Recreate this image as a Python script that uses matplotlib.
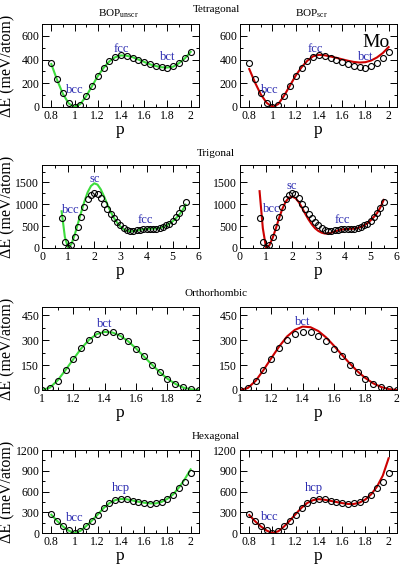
import matplotlib
matplotlib.use("Agg")
import matplotlib.pyplot as plt
from matplotlib.ticker import MultipleLocator, AutoMinorLocator, FuncFormatter

plt.rcParams['font.family'] = ['Liberation Serif', 'DejaVu Serif']
plt.rcParams['mathtext.fontset'] = 'custom'
plt.rcParams['mathtext.rm'] = 'Liberation Serif'

# ---- data ----
p_tet = [0.8, 0.85, 0.9, 0.95, 1.0, 1.05, 1.1, 1.15, 1.2, 1.25, 1.3, 1.35, 1.4,
         1.45, 1.5, 1.55, 1.6, 1.65, 1.7, 1.75, 1.8, 1.85, 1.9, 1.95, 2.0]
tet_dft = [370, 240, 115, 30, 0, 20, 90, 175, 260, 330, 385, 420, 435, 430, 415,
           400, 380, 360, 345, 335, 330, 345, 370, 410, 460]
tet_unscr = [362, 228, 110, 30, 0, 25, 90, 175, 260, 330, 385, 420, 435, 432, 420,
             400, 380, 360, 345, 335, 333, 340, 370, 410, 465]
tet_scr = [320, 205, 105, 35, 0, 25, 95, 180, 265, 335, 390, 428, 440, 436, 426,
           415, 402, 390, 380, 375, 378, 392, 418, 455, 505]

p_tri = [0.75, 0.875, 1.0, 1.125, 1.25, 1.375, 1.5, 1.625, 1.75, 1.875, 2.0, 2.125,
         2.25, 2.375, 2.5, 2.625, 2.75, 2.875, 3.0, 3.125, 3.25, 3.375, 3.5, 3.625,
         3.75, 3.875, 4.0, 4.125, 4.25, 4.375, 4.5, 4.625, 4.75, 4.875, 5.0, 5.125,
         5.25, 5.375, 5.5]
tri_dft = [685, 130, 0, 70, 250, 470, 710, 940, 1110, 1220, 1260, 1230, 1140, 1015,
           890, 775, 680, 600, 520, 455, 410, 385, 390, 405, 420, 430, 438, 440, 440,
           442, 455, 480, 515, 560, 620, 700, 790, 920, 1050]
tri_unscr = [840, 250, 0, 90, 300, 560, 820, 1070, 1280, 1420, 1480, 1450, 1340, 1180,
             1000, 830, 690, 580, 490, 430, 395, 380, 385, 400, 415, 428, 436, 440,
             442, 445, 455, 475, 510, 555, 610, 680, 760, 860, 990]
tri_scr = [1300, 450, 0, 60, 230, 450, 690, 900, 1060, 1150, 1175, 1140, 1050, 920,
           780, 650, 540, 450, 390, 350, 330, 330, 350, 375, 400, 420, 430, 435, 438,
           442, 455, 480, 515, 565, 630, 710, 800, 930, 1100]

p_orth = [1.0, 1.05, 1.1, 1.15, 1.2, 1.25, 1.3, 1.35, 1.4, 1.45, 1.5, 1.55, 1.6,
          1.65, 1.7, 1.75, 1.8, 1.85, 1.9, 1.95, 2.0]
orth_dft = [0, 14, 56, 119, 186, 250, 300, 337, 351, 347, 325, 293, 248, 202, 153,
            109, 69, 38, 16, 6, 0]
orth_unscr = [0, 14, 58, 120, 186, 250, 302, 337, 350, 346, 326, 293, 250, 202, 154,
              108, 68, 37, 15, 4, 0]
orth_scr = [0, 12, 55, 120, 192, 262, 322, 362, 382, 378, 355, 316, 266, 212, 160,
            112, 72, 40, 18, 5, 0]

p_hex = p_tet
hex_dft = [270, 180, 97, 39, 0, 29, 102, 179, 266, 358, 430, 474, 495, 489, 465, 450,
           435, 426, 430, 455, 498, 556, 648, 740, 871]
hex_unscr = [265, 175, 95, 35, 0, 30, 100, 180, 268, 360, 432, 475, 492, 488, 470,
             452, 438, 428, 428, 450, 495, 560, 660, 780, 920]
hex_scr = [260, 170, 95, 35, 0, 25, 95, 180, 275, 365, 435, 475, 490, 480, 465, 448,
           432, 420, 420, 440, 485, 560, 670, 830, 1080]

rows = [
    dict(title='Tetragonal', p=p_tet, dft=tet_dft, fits=(tet_unscr, tet_scr),
         xlim=(0.72, 2.07), xmaj=0.2, ylim=(0, 700), ymaj=200,
         labels=([('bcc', 1.0, 140), ('fcc', 1.4, 490), ('bct', 1.8, 420)],
                 [('bcc', 0.98, 140), ('fcc', 1.37, 490), ('bct', 1.8, 420)])),
    dict(title='Trigonal', p=p_tri, dft=tri_dft, fits=(tri_unscr, tri_scr),
         xlim=(0, 6), xmaj=1, ylim=(0, 1900), ymaj=500,
         labels=([('bcc', 1.1, 870), ('sc', 2.0, 1570), ('fcc', 3.95, 650)],
                 [('bcc', 1.2, 890), ('sc', 2.0, 1420), ('fcc', 3.9, 630)])),
    dict(title='Orthorhombic', p=p_orth, dft=orth_dft, fits=(orth_unscr, orth_scr),
         xlim=(1, 2), xmaj=0.2, ylim=(0, 500), ymaj=150,
         labels=([('bct', 1.4, 395)], [('bct', 1.4, 412)])),
    dict(title='Hexagonal', p=p_hex, dft=hex_dft, fits=(hex_unscr, hex_scr),
         xlim=(0.72, 2.07), xmaj=0.2, ylim=(0, 1200), ymaj=300,
         labels=([('bcc', 1.0, 220), ('hcp', 1.4, 655)],
                 [('bcc', 0.98, 225), ('hcp', 1.36, 655)])),
]

colors = ['#3ddc3d', '#cc0000']
lab_color = '#2a2ab0'

fig = plt.figure(figsize=(4.04, 5.74), dpi=100)
fmt = FuncFormatter(lambda v, pos: f'{round(v, 6):g}')

bottoms = [0.8136, 0.568, 0.3206, 0.0714]
title_y = [0.983, 0.733, 0.488, 0.239]
for r, row in enumerate(rows):
    for c in range(2):
        x0 = 0.104 if c == 0 else 0.594
        ax = fig.add_axes([x0, bottoms[r], 0.388, 0.1446])
        ax.plot(row['p'], row['fits'][c], color=colors[c], lw=1.5, zorder=2)
        ax.plot(row['p'], row['dft'], 'o', mfc='none', mec='black', ms=4.3,
                mew=0.8, zorder=3)
        ax.set_xlim(*row['xlim'])
        ax.set_ylim(*row['ylim'])
        ax.xaxis.set_major_locator(MultipleLocator(row['xmaj']))
        ax.yaxis.set_major_locator(MultipleLocator(row['ymaj']))
        ax.xaxis.set_minor_locator(AutoMinorLocator(2))
        ax.yaxis.set_minor_locator(AutoMinorLocator(2))
        ax.xaxis.set_major_formatter(fmt)
        ax.tick_params(which='both', direction='in', top=True, right=True,
                       labelsize=8.5, pad=2)
        ax.tick_params(which='major', length=5, width=0.7)
        ax.tick_params(which='minor', length=2.5, width=0.7)
        for s in ax.spines.values():
            s.set_linewidth(0.7)
        ax.set_xlabel('p', fontsize=12.5, labelpad=0)
        for txt, px, py in row['labels'][c]:
            ax.text(px, py, txt, color=lab_color, fontsize=9, ha='center',
                    va='center')
        if r == 0 and c == 1:
            ax.text(1.89, 545, 'Mo', fontsize=14, ha='center', va='center')
    fig.text(7 / 404, bottoms[r] + 0.0723, r'ΔE (meV/atom)', rotation=90,
             fontsize=11.5, ha='center', va='center')
    fig.text(0.535, title_y[r], row['title'], fontsize=8, ha='center', va='center')

fig.text(0.292, 0.977, r'BOP$_{\mathrm{unscr}}$', fontsize=8, ha='center', va='center')
fig.text(0.772, 0.977, r'BOP$_{\mathrm{scr}}$', fontsize=8, ha='center', va='center')

fig.savefig('out.png', dpi=100)
